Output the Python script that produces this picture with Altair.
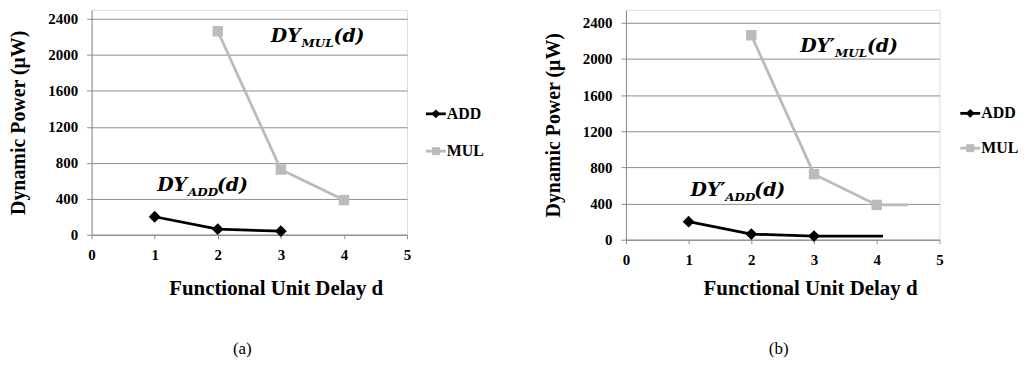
import altair as alt
import pandas as pd

# ---------------- data ----------------
series = ["ADD", "MUL"]
add_delay = [1, 2, 3]
add_power = [200, 62, 40]
mul_delay = [2, 3, 4]
mul_power = [2262, 725, 385]
# in panel (b) each curve runs on flat past its last marker
b_add_tail_delay = [4.1]
b_add_tail_power = [40]
b_mul_tail_delay = [4.5]
b_mul_tail_power = [385]

y_tick_values = [0, 400, 800, 1200, 1600, 2000, 2400]
x_tick_values = [0, 1, 2, 3, 4, 5]

ann_sub = ["MUL", "ADD"]
ann_a_x = [2.84, 1.04]
ann_a_y = [2146, 487]
ann_b_x = [2.78, 1.03]
ann_b_y = [2081, 484]
ann_a_base = "DY"
ann_b_base = "DY\u2032"
ann_tail = "(d)"

panel_letters = ["(a)", "(b)"]
x_title = "Functional Unit Delay d"
y_title = "Dynamic Power (\u03bcW)"

# ---------------- styles ----------------
colors = ["#000000", "#BBBBBB"]
marker_shapes = ["diamond", "square"]
SERIF = "Liberation Serif, Times New Roman, Tinos, DejaVu Serif, serif"
MATH = "DejaVu Serif"
GRID = "#8C8C8C"
sub_widths = [32, 29]


def make_panel(letter, width, height, ymax, add_x, add_y, mul_x, mul_y,
               ann_x, ann_y, base, base_w, x_title_pad, title_dx, legend_rows):
    line_df = pd.DataFrame({
        "delay": add_x + mul_x,
        "power": add_y + mul_y,
        "series": ["ADD"] * len(add_x) + ["MUL"] * len(mul_x),
    })
    add_pts = pd.DataFrame({"delay": add_delay, "power": add_power})
    mul_pts = pd.DataFrame({"delay": mul_delay, "power": mul_power})

    x_enc = alt.X(
        "delay:Q",
        scale=alt.Scale(domain=[0, 5], nice=False, zero=False),
        axis=alt.Axis(
            values=x_tick_values, format="d", grid=False,
            title=x_title, titleFont=SERIF, titleFontSize=21,
            titleFontWeight="bold", titleColor="black",
            titlePadding=x_title_pad, titleX=185,
            labelFont=SERIF, labelFontSize=15, labelFontWeight="bold",
            labelColor="black", labelPadding=9, labelFlush=False,
            tickSize=4, tickColor=GRID, domainColor=GRID, domainWidth=1,
        ),
    )
    y_enc = alt.Y(
        "power:Q",
        scale=alt.Scale(domain=[0, ymax], nice=False),
        axis=alt.Axis(
            values=y_tick_values, format="d", grid=True, gridColor=GRID,
            gridWidth=1,
            title=y_title, titleFont=SERIF, titleFontSize=20,
            titleFontWeight="bold", titleColor="black", titlePadding=19,
            labelFont=SERIF, labelFontSize=15, labelFontWeight="bold",
            labelColor="black", labelPadding=9, labelFlush=False,
            tickSize=5, tickColor=GRID, domainColor=GRID, domainWidth=1,
        ),
    )
    color_scale = alt.Scale(domain=series, range=colors)

    lines = alt.Chart(line_df).mark_line(strokeWidth=2.8).encode(
        x=x_enc, y=y_enc,
        color=alt.Color("series:N", scale=color_scale, legend=None),
    )
    add_marks = alt.Chart(add_pts).mark_point(
        shape="diamond", filled=True, size=140, color=colors[0], opacity=1
    ).encode(x=x_enc, y=y_enc)
    mul_marks = alt.Chart(mul_pts).mark_point(
        shape="square", filled=True, size=110, color=colors[1], opacity=1
    ).encode(x=x_enc, y=y_enc)

    layers = [lines, add_marks, mul_marks]

    # legend (line + marker + label), placed to the right of the plot
    for i, name in enumerate(series):
        ldf = pd.DataFrame({"series": [name]})
        ly = legend_rows[i]
        layers.append(alt.Chart(ldf).mark_rule(
            color=colors[i], strokeWidth=2.8).encode(
            x=alt.value(336), x2=alt.value(356), y=alt.value(ly)))
        layers.append(alt.Chart(ldf).mark_point(
            shape=marker_shapes[i], filled=True, size=80 if i == 0 else 64,
            color=colors[i], opacity=1).encode(
            x=alt.value(346), y=alt.value(ly)))
        layers.append(alt.Chart(ldf).mark_text(
            align="left", baseline="middle", font=SERIF, fontSize=16,
            fontWeight="bold", color="black").encode(
            x=alt.value(357), y=alt.value(ly), text="series:N"))

    common = dict(font=MATH, fontStyle="italic", fontWeight="bold",
                  align="left", baseline="alphabetic", color="black")
    for i in range(len(ann_sub)):
        df = pd.DataFrame({"delay": [ann_x[i]], "power": [ann_y[i]],
                           "base": [base], "sub": [ann_sub[i]],
                           "tail": [ann_tail]})
        layers.append(alt.Chart(df).mark_text(fontSize=19, **common).encode(
            x=x_enc, y=y_enc, text="base:N"))
        layers.append(alt.Chart(df).mark_text(
            fontSize=12, dx=base_w, dy=5, **common).encode(
            x=x_enc, y=y_enc, text="sub:N"))
        layers.append(alt.Chart(df).mark_text(
            fontSize=19, dx=base_w + sub_widths[i], **common).encode(
            x=x_enc, y=y_enc, text="tail:N"))

    return alt.layer(*layers).properties(
        width=width, height=height,
        title=alt.TitleParams(
            letter, orient="bottom", anchor="middle", font=SERIF,
            fontSize=17, fontWeight="normal", color="black", offset=43,
            dx=title_dx,
        ),
    )


panel_a = make_panel(
    panel_letters[0], 317, 226, 2500,
    add_delay, add_power, mul_delay, mul_power,
    ann_a_x, ann_a_y, ann_a_base, 31, 15, -7, [104.5, 142],
)
panel_b = make_panel(
    panel_letters[1], 315, 231, 2543,
    add_delay + b_add_tail_delay, add_power + b_add_tail_power,
    mul_delay + b_mul_tail_delay, mul_power + b_mul_tail_power,
    ann_b_x, ann_b_y, ann_b_base, 35, 10, -4, [104, 139],
)

chart = alt.hconcat(panel_a, panel_b, spacing=58).resolve_scale(
    x="independent", y="independent"
).properties(padding=0).configure_view(stroke=None).configure(background="white")

chart.save("out.html", embed_options={"renderer": "svg", "actions": False})
